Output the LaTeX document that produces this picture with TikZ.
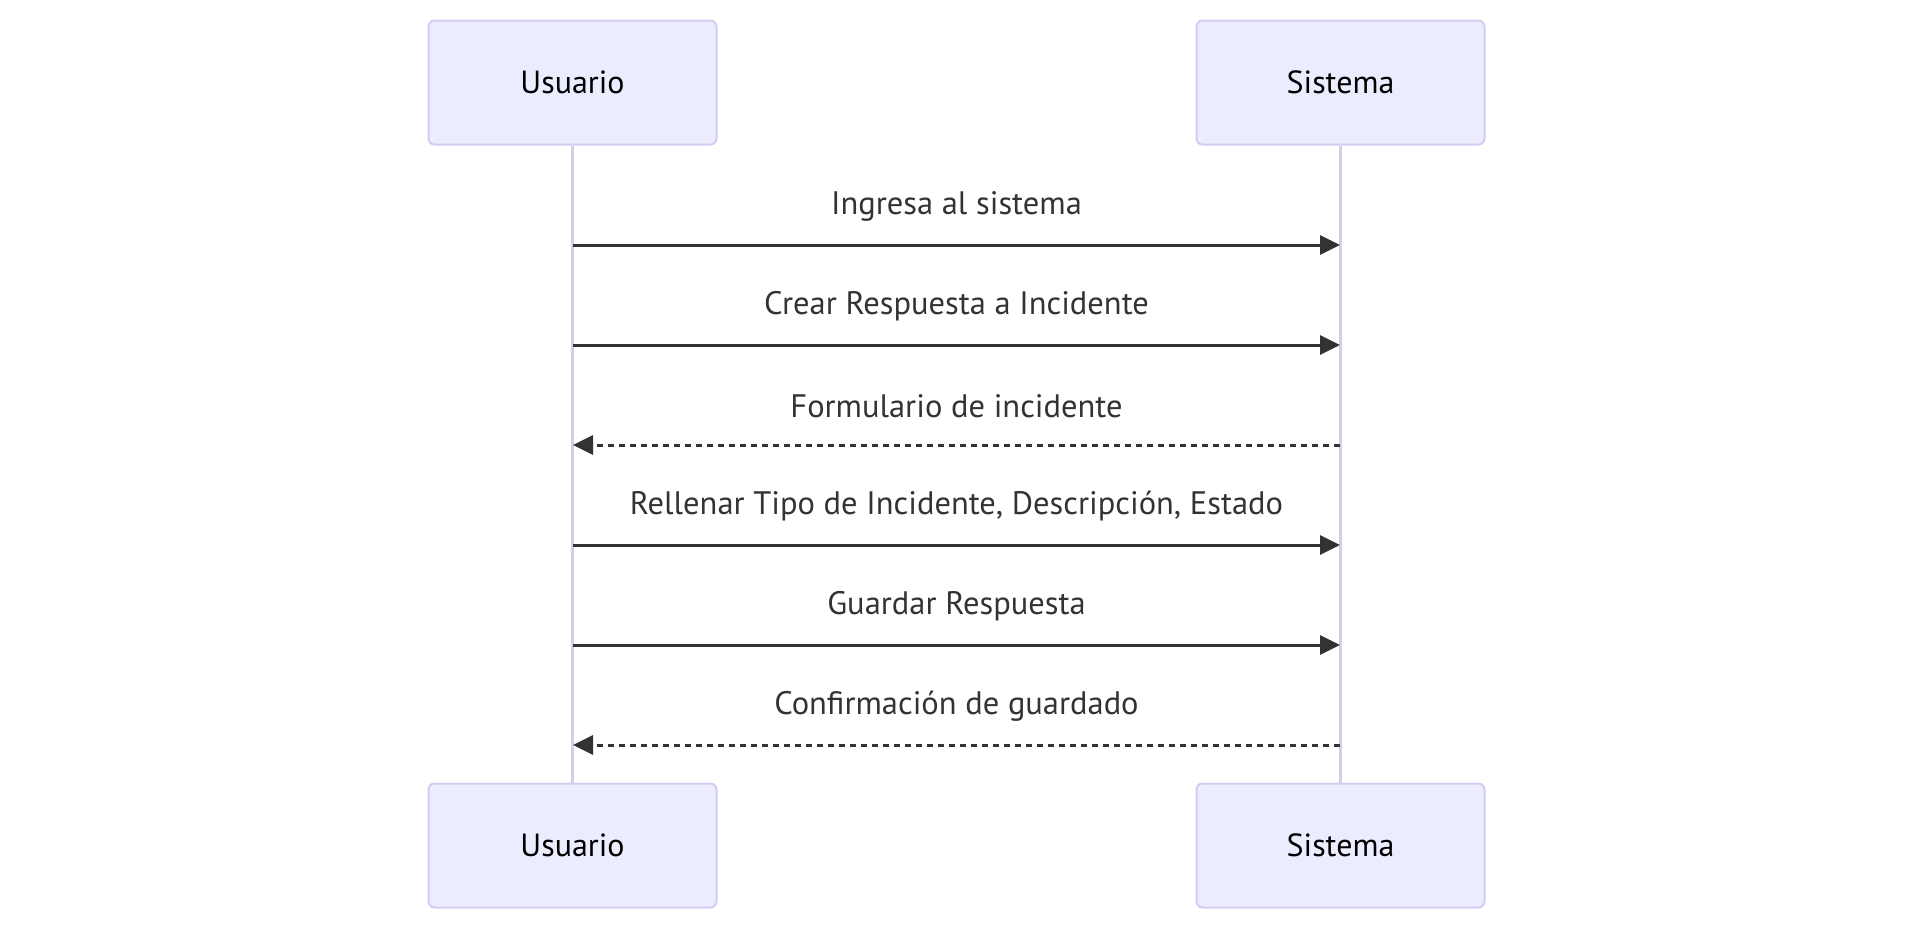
\documentclass[tikz,border=0pt]{standalone}
\usepackage{fontspec}
\setmainfont{PT Sans}
\usetikzlibrary{arrows.meta}
\definecolor{actfill}{HTML}{ECECFF}
\definecolor{actborder}{HTML}{D6CBF2}
\definecolor{msgcol}{HTML}{333333}
\tikzset{
  actor/.style={draw=actborder, line width=2pt, fill=actfill, rounded corners=6pt,
    minimum width=288pt, minimum height=124pt, inner sep=0pt, font=\fontsize{32}{38}\selectfont, text=black},
  lifeline/.style={draw=actborder, line width=3.5pt},
  msg/.style={draw=msgcol, line width=3pt, -{Triangle[length=20pt,width=19pt]}},
  reply/.style={msg, dash pattern=on 6pt off 5pt},
  lbl/.style={font=\fontsize{32.5}{38}\selectfont, text=msgcol, inner sep=0pt}
}
\begin{document}
\begin{tikzpicture}[x=1pt,y=1pt]
\useasboundingbox (0,0) rectangle (1913,-932);
\node[actor] (ut) at (572.5,-82.5) {Usuario};
\node[actor] (st) at (1340.5,-82.5) {Sistema};
\node[actor] (ub) at (572.5,-845.5) {Usuario};
\node[actor] (sb) at (1340.5,-845.5) {Sistema};
\draw[lifeline] (ut.south) -- (ub.north);
\draw[lifeline] (st.south) -- (sb.north);
\foreach \i/\y in {1/245,2/345,3/445,4/545,5/645,6/745}{
  \coordinate (u\i) at (573,-\y);
  \coordinate (s\i) at (1340,-\y);
}
\draw[msg] (u1) -- (s1);
\draw[msg] (u2) -- (s2);
\draw[reply] (s3) -- (u3);
\draw[msg] (u4) -- (s4);
\draw[msg] (u5) -- (s5);
\draw[reply] (s6) -- (u6);
\node[lbl] (l1) at (956.5,-206) {Ingresa al sistema};
\node[lbl] (l2) at (956.5,-306) {Crear Respuesta a Incidente};
\node[lbl] (l3) at (956.5,-406) {Formulario de incidente};
\node[lbl] (l4) at (956.5,-506) {Rellenar Tipo de Incidente, Descripción, Estado};
\node[lbl] (l5) at (956.5,-606) {Guardar Respuesta};
\node[lbl] (l6) at (956.5,-706) {Confirmación de guardado};
\end{tikzpicture}
\end{document}
